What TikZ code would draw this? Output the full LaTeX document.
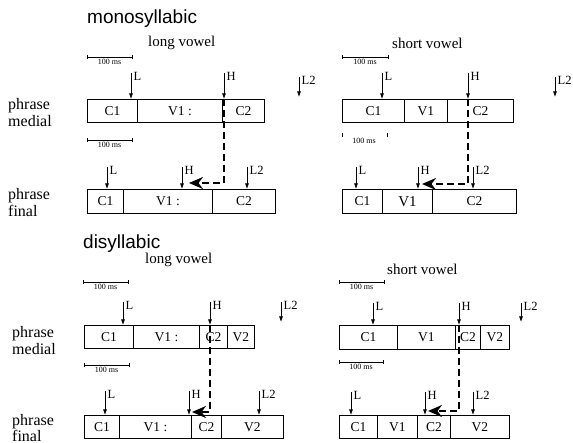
\documentclass[tikz,border=0pt]{standalone}
\usepackage{fontspec}
\setmainfont{Liberation Serif}
\newfontfamily\headfont{Liberation Sans}
\usetikzlibrary{arrows.meta}
\tikzset{
  cell/.style={draw, line width=0.9pt, rectangle, inner sep=0pt, anchor=north west,
    font=\fontsize{13.5}{14}\selectfont},
  pitcharrow/.style={line width=0.8pt, -{Latex[length=5.5pt,width=4pt]}},
  plabel/.style={anchor=base west, inner sep=0pt, font=\fontsize{12.5}{13}\selectfont},
  scalebar/.style={line width=0.5pt, {Bar[width=4pt]}-{Bar[width=4pt]}},
  tick/.style={line width=0.5pt},
  stext/.style={anchor=north, inner sep=0pt, font=\fontsize{8}{9}\selectfont},
  shiftarrow/.style={line width=2pt, dash pattern=on 7pt off 4pt,
    -{Stealth[length=14pt,width=12pt,inset=4.5pt]}},
  heading/.style={anchor=base west, inner sep=0pt, font=\headfont\fontsize{19}{22}\selectfont},
  vtitle/.style={anchor=base west, inner sep=0pt, font=\fontsize{15}{17}\selectfont},
  rowlabel/.style={anchor=base west, inner sep=0pt, font=\fontsize{16}{18}\selectfont}
}
\newcommand\cellbox[6]{%
  \node[cell, minimum width={(#3-#2)*1pt}, minimum height={(#5-#4)*1pt}] (#1) at (#2,#4) {#6};}
\newcommand\pitchmark[5]{%
  \coordinate (#1s) at (#2,#3);
  \coordinate (#1e) at (#2,#4);
  \draw[pitcharrow] (#1s) -- (#1e);
  \node[plabel] (#1l) at (#2+2.5,#3+7.5) {#5};}
\newcommand\sbar[4]{%
  \coordinate (#1a) at (#2,#4);
  \coordinate (#1b) at (#3,#4);
  \draw[scalebar] (#1a) -- (#1b);
  \node[stext] (#1t) at ({(#2+#3)/2},#4+1.5) {100 ms};}
\begin{document}
\begin{tikzpicture}[x=1pt,y=-1pt]
\useasboundingbox (0,0) rectangle (573,443);
% ---------------- headings
\node[heading] (hmono) at (87,24) {monosyllabic};
\node[heading] (hdi) at (83,249) {disyllabic};
% ---------------- row labels
\node[rowlabel] (r1a) at (8,110) {phrase};
\node[rowlabel] (r1b) at (8,127) {medial};
\node[rowlabel] (r2a) at (8,200) {phrase};
\node[rowlabel] (r2b) at (8,217) {final};
\node[rowlabel] (r3a) at (12,338) {phrase};
\node[rowlabel] (r3b) at (12,355) {medial};
\node[rowlabel] (r4a) at (12,425) {phrase};
\node[rowlabel] (r4b) at (12,441) {final};

% ================= monosyllabic long vowel
\node[vtitle] (tml) at (148,47) {long vowel};
\sbar{mlsb1}{87}{132}{57}
\sbar{mlsb2}{87}{132}{140}
\pitchmark{mlmL}{131}{73}{99}{L}
\pitchmark{mlmH}{224}{73}{99}{H}
\pitchmark{mlmLL}{299}{77}{97}{L2}
\cellbox{mlm1}{87}{137}{99}{122}{C1}
\cellbox{mlm2}{137}{222}{99}{122}{V1 :}
\cellbox{mlm3}{222}{264}{99}{122}{C2}
\pitchmark{mlfL}{107}{167}{189}{L}
\pitchmark{mlfH}{182}{167}{189}{H}
\pitchmark{mlfLL}{247}{167}{189}{L2}
\cellbox{mlf1}{87}{123}{189}{213}{C1}
\cellbox{mlf2}{123}{212}{189}{213}{V1 :}
\cellbox{mlf3}{212}{275}{189}{213}{C2}
\coordinate (mld1) at (224,183);
\coordinate (mld2) at (189,183);
\draw[shiftarrow] (mlmHe) -- (mld1) -- (mld2);

% ================= monosyllabic short vowel
\node[vtitle] (tms) at (392,49) {short vowel};
\sbar{mssb1}{342}{388}{57}
\coordinate (mst1) at (342,133);
\coordinate (mst2) at (387,133);
\draw[tick] (mst1) -- ++(0,4);
\draw[tick] (mst2) -- ++(0,4);
\node[stext] (mst) at (364,138) {100 ms};
\pitchmark{msmL}{382}{73}{99}{L}
\pitchmark{msmH}{468}{73}{99}{H}
\pitchmark{msmLL}{555}{77}{97}{L2}
\cellbox{msm1}{342}{404}{99}{122}{C1}
\cellbox{msm2}{404}{447}{99}{122}{V1}
\cellbox{msm3}{447}{513}{99}{122}{C2}
\pitchmark{msfL}{356}{167}{189}{L}
\pitchmark{msfH}{418}{167}{189}{H}
\pitchmark{msfLL}{473}{167}{189}{L2}
\cellbox{msf1}{342}{382}{189}{213}{C1}
\cellbox{msf2}{382}{432}{189}{213}{\fontsize{15}{16}\selectfont V1}
\cellbox{msf3}{432}{516}{189}{213}{C2}
\coordinate (msd1) at (468,184);
\coordinate (msd2) at (422,184);
\draw[shiftarrow] (msmHe) -- (msd1) -- (msd2);

% ================= disyllabic long vowel
\node[vtitle] (tdl) at (145,264) {long vowel};
\sbar{dlsb1}{83}{128}{282}
\sbar{dlsb2}{84}{129}{365}
\pitchmark{dlmL}{123}{302}{325}{L}
\pitchmark{dlmH}{210}{302}{325}{H}
\pitchmark{dlmLL}{281}{302}{322}{L2}
\cellbox{dlm1}{84}{133}{325}{348}{C1}
\cellbox{dlm2}{133}{199}{325}{348}{V1 :}
\cellbox{dlm3}{199}{227}{325}{348}{C2}
\cellbox{dlm4}{227}{254}{325}{348}{V2}
\pitchmark{dlfL}{105}{391}{415}{L}
\pitchmark{dlfH}{189}{391}{415}{H}
\pitchmark{dlfLL}{259}{391}{415}{L2}
\cellbox{dlf1}{84}{119}{415}{438}{C1}
\cellbox{dlf2}{119}{191}{415}{438}{V1 :}
\cellbox{dlf3}{191}{221}{415}{438}{C2}
\cellbox{dlf4}{221}{283}{415}{438}{V2}
\coordinate (dld1) at (210,412);
\coordinate (dld2) at (192,412);
\draw[shiftarrow] (dlmHe) -- (dld1) -- (dld2);

% ================= disyllabic short vowel
\node[vtitle] (tds) at (387,275) {short vowel};
\sbar{dssb1}{339}{384}{282}
\sbar{dssb2}{339}{383}{362}
\pitchmark{dsmL}{373}{303}{325}{L}
\pitchmark{dsmH}{459}{303}{325}{H}
\pitchmark{dsmLL}{521}{303}{322}{L2}
\cellbox{dsm1}{339}{397}{325}{349}{C1}
\cellbox{dsm2}{397}{455}{325}{349}{V1}
\cellbox{dsm3}{455}{480}{325}{349}{C2}
\cellbox{dsm4}{480}{509}{325}{349}{V2}
\pitchmark{dsfL}{351}{392}{415}{L}
\pitchmark{dsfH}{425}{392}{415}{H}
\pitchmark{dsfLL}{473}{392}{415}{L2}
\cellbox{dsf1}{339}{377}{415}{438}{C1}
\cellbox{dsf2}{377}{417}{415}{438}{V1}
\cellbox{dsf3}{417}{450}{415}{438}{C2}
\cellbox{dsf4}{450}{509}{415}{438}{V2}
\coordinate (dsd1) at (459,411);
\coordinate (dsd2) at (428,411);
\draw[shiftarrow] (dsmHe) -- (dsd1) -- (dsd2);
\end{tikzpicture}
\end{document}
